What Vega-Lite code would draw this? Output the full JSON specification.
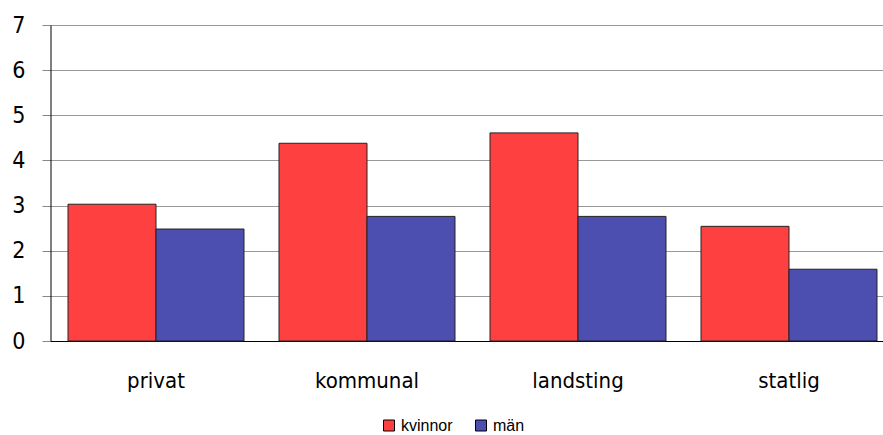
{
  "$schema": "https://vega.github.io/schema/vega-lite/v6.json",
  "width": 844,
  "height": 316,
  "autosize": {"type": "none"},
  "padding": {"left": 50.5, "top": 25, "right": 0, "bottom": 94},
  "config": {"view": {"stroke": null}, "font": "Liberation Sans"},
  "data": {
    "values": [
      {"sektor": "privat", "kon": "kvinnor", "value": 3.03},
      {"sektor": "privat", "kon": "män", "value": 2.48},
      {"sektor": "kommunal", "kon": "kvinnor", "value": 4.38},
      {"sektor": "kommunal", "kon": "män", "value": 2.76},
      {"sektor": "landsting", "kon": "kvinnor", "value": 4.61},
      {"sektor": "landsting", "kon": "män", "value": 2.76},
      {"sektor": "statlig", "kon": "kvinnor", "value": 2.54},
      {"sektor": "statlig", "kon": "män", "value": 1.59}
    ]
  },
  "mark": {"type": "bar", "stroke": "#222", "strokeWidth": 1},
  "encoding": {
    "x": {
      "field": "sektor",
      "type": "nominal",
      "sort": ["privat", "kommunal", "landsting", "statlig"],
      "scale": {"paddingInner": 0.166, "paddingOuter": 0.083},
      "axis": {
        "title": null,
        "labelAngle": 0,
        "ticks": false,
        "labelFontSize": 22,
        "labelFont": "DejaVu Sans Condensed, Liberation Sans",
        "labelColor": "#000",
        "labelPadding": 29,
        "domainColor": "#000",
        "domainWidth": 1
      }
    },
    "xOffset": {
      "field": "kon",
      "sort": ["kvinnor", "män"],
      "scale": {"paddingInner": 0, "paddingOuter": 0}
    },
    "y": {
      "field": "value",
      "type": "quantitative",
      "scale": {"domain": [0, 7], "nice": false},
      "axis": {
        "title": null,
        "values": [0, 1, 2, 3, 4, 5, 6, 7],
        "grid": true,
        "gridColor": "#999",
        "gridWidth": 1.2,
        "tickColor": "#888",
        "tickSize": 8.5,
        "labelFontSize": 23,
        "labelFont": "DejaVu Sans Condensed, Liberation Sans",
        "labelColor": "#000",
        "labelPadding": 17,
        "domainColor": "#000",
        "domainWidth": 1
      }
    },
    "color": {
      "field": "kon",
      "type": "nominal",
      "sort": ["kvinnor", "män"],
      "scale": {"range": ["#FF4040", "#4D4FB0"]},
      "legend": {
        "orient": "none",
        "legendX": 330.5,
        "legendY": 392.5,
        "direction": "horizontal",
        "title": null,
        "symbolType": "square",
        "symbolSize": 121,
        "symbolStrokeColor": "#000",
        "symbolStrokeWidth": 1,
        "symbolOpacity": 1,
        "labelFont": "Liberation Sans",
        "labelFontSize": 16,
        "labelColor": "#000",
        "labelOffset": 4,
        "columnPadding": 20,
        "padding": 0
      }
    }
  }
}
